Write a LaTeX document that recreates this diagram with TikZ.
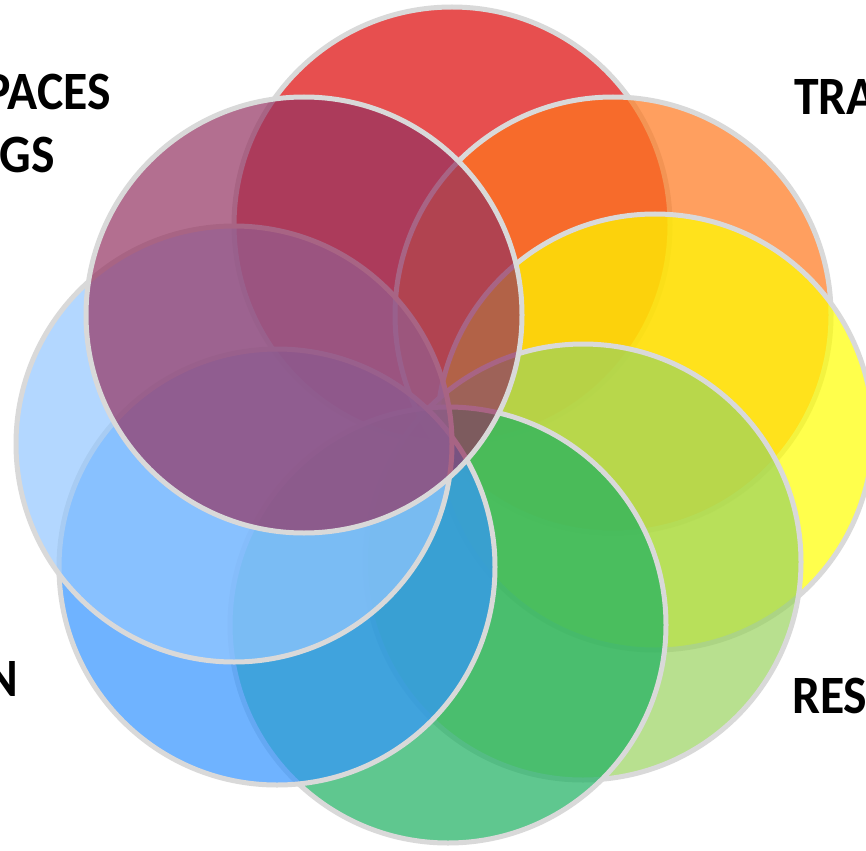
\documentclass[tikz,border=0pt]{standalone}
\usepackage{fontspec}
\setmainfont{Carlito}
\newfontfamily\lblfont[FakeStretch=0.92]{Carlito}
\definecolor{cRed}{RGB}{222,5,5}
\definecolor{cOrange}{RGB}{255,119,28}
\definecolor{cYellow}{RGB}{255,255,0}
\definecolor{cYG}{RGB}{154,211,96}
\definecolor{cGreen}{RGB}{28,176,96}
\definecolor{cBlue}{RGB}{51,148,255}
\definecolor{cLBlue}{RGB}{148,199,255}
\definecolor{cPurple}{RGB}{148,51,97}
\definecolor{cBorder}{RGB}{217,217,217}
\tikzset{
  petal/.style={circle, draw=cBorder, line width=5pt, minimum size=436pt,
    inner sep=0pt, fill opacity=0.7, draw opacity=1},
  lbl/.style={inner sep=0pt, font=\lblfont\fontsize{54}{63}\selectfont\bfseries, text=black}
}
\begin{document}
\begin{tikzpicture}[x=1pt,y=-1pt]
\useasboundingbox (0,0) rectangle (866,850);
\fill[white] (0,0) rectangle (866,850);
\clip (0,0) rectangle (866,850);
\node[petal, fill=cRed]    (red)    at (452,225) {};
\node[petal, fill=cOrange] (orange) at (613,315) {};
\node[petal, fill=cYellow] (yellow) at (655,432) {};
\node[petal, fill=cYG]     (ygreen) at (583,562) {};
\node[petal, fill=cGreen]  (green)  at (448,625) {};
\node[petal, fill=cBlue]   (blue)   at (277,567) {};
\node[petal, fill=cLBlue]  (lblue)  at (234,444) {};
\node[petal, fill=cPurple] (purple) at (304,315) {};
\node[lbl, anchor=base east] (l1) at (111,110) {PACES};
\node[lbl, anchor=base east] (l2) at (55,173) {GS};
\node[lbl, anchor=base west] (l3) at (794,115) {TRA};
\node[lbl, anchor=base east] (l4) at (18,696) {N};
\node[lbl, anchor=base west] (l5) at (792,713) {RES};
\end{tikzpicture}
\end{document}
